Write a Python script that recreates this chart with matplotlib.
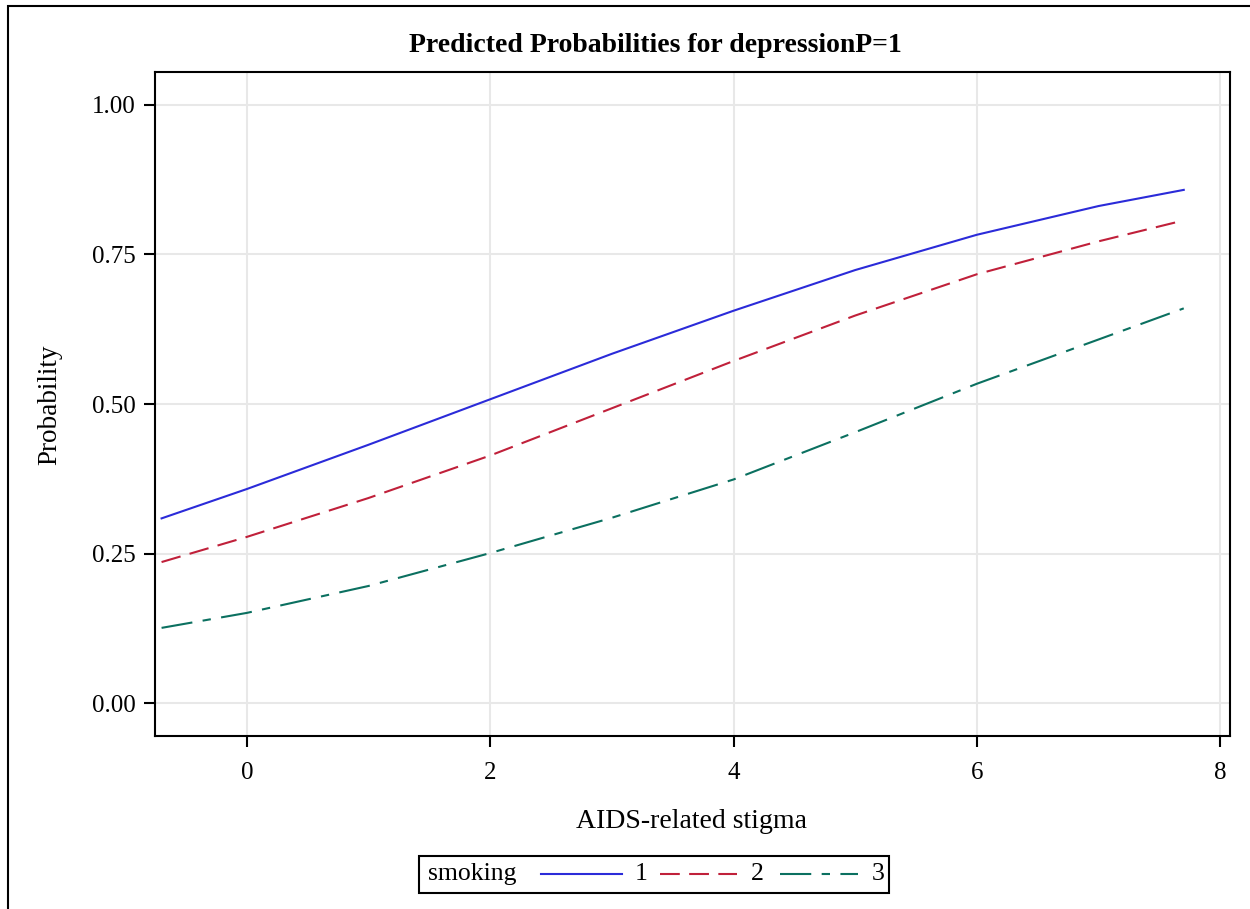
import matplotlib
matplotlib.use('Agg')
import matplotlib.pyplot as plt
from matplotlib.patches import Rectangle
from matplotlib.lines import Line2D

plt.rcParams['font.family'] = ['Liberation Serif', 'DejaVu Serif']

# values
stigma = [-0.7, 0, 1, 2, 3, 4, 5, 6, 7, 7.7]
prob_1 = [0.309, 0.358, 0.432, 0.508, 0.584, 0.656, 0.724, 0.783, 0.831, 0.858]
prob_2 = [0.236, 0.278, 0.343, 0.414, 0.493, 0.572, 0.648, 0.717, 0.772, 0.807]
prob_3 = [0.126, 0.151, 0.196, 0.251, 0.310, 0.374, 0.453, 0.534, 0.608, 0.660]

groups = ['1', '2', '3']
colors = ['#2b2bd9', '#c0203a', '#0b7060']
styles = ['-', (0, (9.5, 4.5)), (0, (15, 5, 4, 5))]
xticks = [0, 2, 4, 6, 8]
yticks = [0.0, 0.25, 0.5, 0.75, 1.0]

W, H = 1250, 909
fig = plt.figure(figsize=(W/100, H/100), dpi=100)
ax = fig.add_axes([155/W, 1-736/H, (1230-155)/W, (736-72)/H])

for y, c, ls in zip([prob_1, prob_2, prob_3], colors, styles):
    ax.plot(stigma, y, color=c, linestyle=ls, lw=1.5)

ax.set_xlim(-0.754, 8.08)
ax.set_ylim(-0.0547, 1.055)
ax.set_xticks(xticks)
ax.set_yticks(yticks)
ax.set_yticklabels(['%.2f' % v for v in yticks])
ax.grid(True, color='#e8e8e8', lw=1.5)
ax.set_axisbelow(True)
for s in ax.spines.values():
    s.set_linewidth(1.5)
ax.tick_params(length=8, width=1.5, labelsize=18, pad=6)
ax.tick_params(axis='x', pad=11)

fig.text(655/W, 1-45/H, 'Predicted Probabilities for depressionP=1',
         ha='center', va='center', fontsize=20, fontweight='bold')
fig.text(692/W, 1-822/H, 'AIDS-related stigma', ha='center', va='center', fontsize=20)
fig.text(50/W, 1-405/H, 'Probability', ha='center', va='center', fontsize=19.5, rotation=90)

# outer border
fig.patches.append(Rectangle((8/W, -0.05), 1.1, 1-6/H+0.05, transform=fig.transFigure,
                             fill=False, lw=1.5, ec='black'))

# legend box, drawn by hand
fig.patches.append(Rectangle((419/W, 1-893/H), 470/W, 37/H, transform=fig.transFigure,
                             fill=False, lw=1.5, ec='black'))
ly = 1-874/H
fig.text(428/W, ly, 'smoking', ha='left', va='center', fontsize=18.5)
seg = [(541, 622, 635), (660, 737, 751), (780, 858, 872)]
for (x0, x1, xt), c, ls, g in zip(seg, colors, styles, groups):
    fig.add_artist(Line2D([x0/W, x1/W], [ly, ly], transform=fig.transFigure,
                          color=c, linestyle=ls, lw=1.5))
    fig.text(xt/W, ly, g, ha='left', va='center', fontsize=18.5)

fig.savefig('out.png', dpi=100)
